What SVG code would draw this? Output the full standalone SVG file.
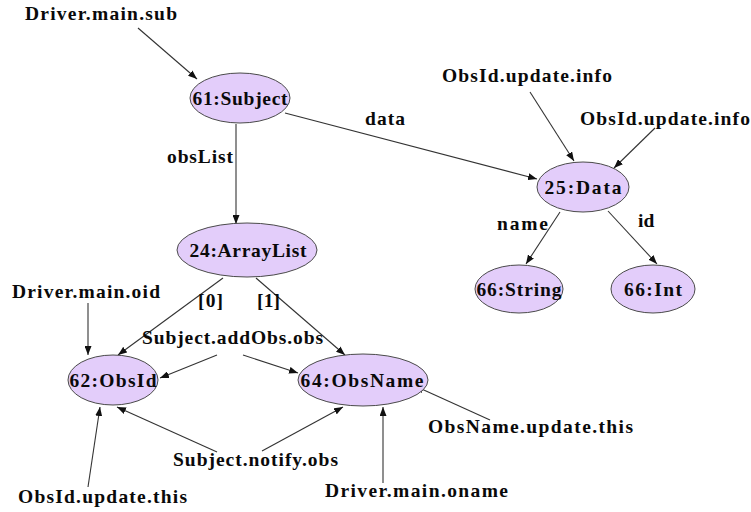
<svg xmlns="http://www.w3.org/2000/svg" width="751" height="512" viewBox="0 0 751 512">
  <style>
    text { font-family: "Liberation Serif", "Times New Roman", serif; font-weight: bold; font-size: 19.5px; fill: #0a0a0a; }
    .node ellipse { fill: #e3cdfa; stroke: #4a4a4a; stroke-width: 1; }
    .node text { text-anchor: middle; }
    .edges line { stroke: #333; stroke-width: 1.1; marker-end: url(#arrow); }
  </style>
  <defs>
    <marker id="arrow" markerUnits="userSpaceOnUse" markerWidth="9" markerHeight="7" refX="9" refY="3.5" orient="auto">
      <path d="M0,0 L9,3.5 L0,7 z" fill="#111"/>
    </marker>
  </defs>
  <rect width="751" height="512" fill="#fff"/>

  <!-- connectors -->
  <g id="edges" class="edges">
    <line x1="138" y1="28" x2="197" y2="79"/>
    <line x1="236" y1="124" x2="236" y2="224"/>
    <line x1="285" y1="113" x2="537" y2="179"/>
    <line x1="530" y1="92" x2="574" y2="161"/>
    <line x1="655" y1="128" x2="614" y2="168"/>
    <line x1="560" y1="212" x2="526" y2="264"/>
    <line x1="608" y1="211" x2="657" y2="264"/>
    <line x1="223" y1="278" x2="118" y2="355"/>
    <line x1="256" y1="278" x2="345" y2="355"/>
    <line x1="88" y1="303" x2="88" y2="355"/>
    <line x1="217" y1="355" x2="160" y2="378"/>
    <line x1="243" y1="355" x2="298" y2="373"/>
    <line x1="88" y1="487" x2="100" y2="407"/>
    <line x1="217" y1="452" x2="117" y2="407"/>
    <line x1="262" y1="451" x2="343" y2="407"/>
    <line x1="383" y1="483" x2="383" y2="407"/>
    <line x1="490" y1="420" x2="415" y2="386"/>
  </g>

  <!-- edge and reference labels -->
  <g id="labels">
    <text x="25" y="20" textLength="152" lengthAdjust="spacing">Driver.main.sub</text>
    <text x="167" y="163" textLength="66" lengthAdjust="spacing">obsList</text>
    <text x="365" y="125" textLength="40" lengthAdjust="spacing">data</text>
    <text x="442" y="82" textLength="170" lengthAdjust="spacing">ObsId.update.info</text>
    <text x="580" y="125" textLength="170" lengthAdjust="spacing">ObsId.update.info</text>
    <text x="497" y="230" textLength="51" lengthAdjust="spacing">name</text>
    <text x="638" y="227">id</text>
    <text x="12" y="298" textLength="148" lengthAdjust="spacing">Driver.main.oid</text>
    <text x="198" y="307" textLength="25" lengthAdjust="spacing">[0]</text>
    <text x="257" y="307" textLength="23" lengthAdjust="spacing">[1]</text>
    <text x="142" y="344" textLength="181" lengthAdjust="spacing">Subject.addObs.obs</text>
    <text x="173" y="466" textLength="165" lengthAdjust="spacing">Subject.notify.obs</text>
    <text x="428" y="433" textLength="205" lengthAdjust="spacing">ObsName.update.this</text>
    <text x="325" y="497" textLength="183" lengthAdjust="spacing">Driver.main.oname</text>
    <text x="18" y="503" textLength="169" lengthAdjust="spacing">ObsId.update.this</text>
  </g>

  <!-- nodes -->
  <g id="n61" class="node"><ellipse cx="240" cy="98" rx="50" ry="25"/><text x="240" y="105" textLength="95" lengthAdjust="spacing">61:Subject</text></g>
  <g id="n24" class="node"><ellipse cx="247" cy="250" rx="70" ry="27"/><text x="248" y="257" textLength="117" lengthAdjust="spacing">24:ArrayList</text></g>
  <g id="n25" class="node"><ellipse cx="583" cy="187" rx="46" ry="25"/><text x="583" y="194" textLength="77" lengthAdjust="spacing">25:Data</text></g>
  <g id="n66s" class="node"><ellipse cx="519" cy="289" rx="44" ry="24"/><text x="519" y="296" textLength="85" lengthAdjust="spacing">66:String</text></g>
  <g id="n66i" class="node"><ellipse cx="653" cy="289" rx="42" ry="24"/><text x="653" y="296" textLength="58" lengthAdjust="spacing">66:Int</text></g>
  <g id="n62" class="node"><ellipse cx="113" cy="380" rx="45" ry="25"/><text x="113" y="387" textLength="87" lengthAdjust="spacing">62:ObsId</text></g>
  <g id="n64" class="node"><ellipse cx="363" cy="380" rx="65" ry="26"/><text x="362" y="387" textLength="123" lengthAdjust="spacing">64:ObsName</text></g>
</svg>
